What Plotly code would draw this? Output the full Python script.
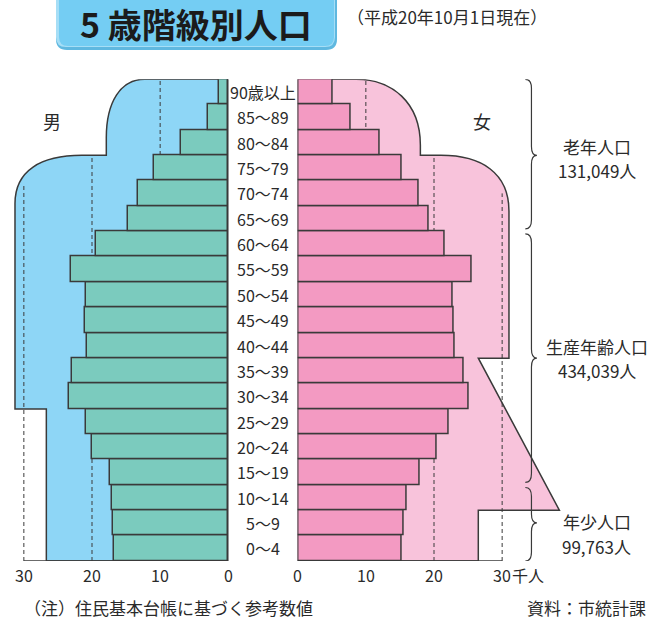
import plotly.graph_objects as go

W, H = 649, 623

# ---------------- data ----------------
age_labels = ["0～4", "5～9", "10～14", "15～19", "20～24", "25～29", "30～34",
              "35～39", "40～44", "45～49", "50～54", "55～59", "60～64", "65～69",
              "70～74", "75～79", "80～84", "85～89", "90歳以上"]
male = [16.7, 16.9, 17.0, 17.3, 20.0, 20.9, 23.4, 22.9, 20.8, 21.0,
        20.9, 23.1, 19.4, 14.7, 13.2, 10.9, 7.0, 3.0, 1.4]
female = [15.2, 15.6, 16.0, 17.9, 20.4, 22.2, 25.1, 24.3, 23.1, 22.9,
          22.8, 25.5, 21.5, 19.2, 17.7, 15.2, 12.1, 7.8, 5.2]
tick_vals = [0, 10, 20, 30]
tick_text = ["0", "10", "20", "30"]
groups = ["老年人口", "生産年齢人口", "年少人口"]
group_counts = ["131,049人", "434,039人", "99,763人"]

idx = list(range(len(age_labels)))

# ---------------- geometry helpers ----------------
X0_M = 228.3   # px of male zero
X0_F = 297.7   # px of female zero
SCALE = 6.815  # px per unit
Y_BOT, Y_TOP = 561.0, 79.3

def py(p):
    return 1 - p / H

def px(p):
    return p / W

C_BLUE = "#8ed6f6"
C_TEAL = "#7bcbbe"
C_PINK_BG = "#f8c3db"
C_PINK = "#f39ac2"
C_LINE = "#3a3a3a"
C_TXT = "#2a2a2a"
FONT = "Noto Sans CJK JP"

fig = go.Figure()
fig.add_trace(go.Bar(y=idx, x=male, orientation="h", xaxis="x", yaxis="y",
                     width=1, marker=dict(color=C_TEAL, line=dict(color=C_LINE, width=1.5)),
                     showlegend=False, hoverinfo="skip"))
fig.add_trace(go.Bar(y=idx, x=female, orientation="h", xaxis="x2", yaxis="y",
                     width=1, marker=dict(color=C_PINK, line=dict(color=C_LINE, width=1.5)),
                     showlegend=False, hoverinfo="skip"))

shapes = []

# background outline shapes (data coords)
male_path = ("M 0,18.5 L 12.3,18.5 C 15.8,18.5 17.9,17.6 17.9,16.2 L 17.9,15.5 "
             "L 21.5,15.5 C 27.5,15.5 31.3,14.9 31.3,13.6 L 31.3,5.5 L 26.7,5.5 "
             "L 26.7,-0.5 L 0,-0.5 Z")
female_path = ("M 0,18.5 L 8.6,18.5 C 13.8,18.5 18.0,17.6 18.0,15.9 L 18.0,15.5 "
               "L 21.0,15.5 C 27.0,15.5 31.0,14.8 31.0,13.3 L 31.0,7.5 L 26.5,7.5 "
               "L 38.4,1.5 L 26.5,1.5 L 26.5,-0.5 L 0,-0.5 Z")
shapes.append(dict(type="path", path=male_path, xref="x", yref="y", layer="below",
                   fillcolor=C_BLUE, line=dict(color=C_LINE, width=1.5)))
shapes.append(dict(type="path", path=female_path, xref="x2", yref="y", layer="below",
                   fillcolor=C_PINK_BG, line=dict(color=C_LINE, width=1.5)))

# dashed reference lines
dash_m = [(10, 18.5), (20, 15.5), (30, 14.4)]
dash_f = [(10, 18.5), (20, 15.5), (30, 14.0)]
for xv, ytop in dash_m:
    shapes.append(dict(type="line", xref="x", yref="y", x0=xv, x1=xv, y0=-0.5, y1=ytop,
                       layer="below", line=dict(color=C_LINE, width=1, dash="4px,3px")))
for xv, ytop in dash_f:
    shapes.append(dict(type="line", xref="x2", yref="y", x0=xv, x1=xv, y0=-0.5, y1=ytop,
                       layer="below", line=dict(color=C_LINE, width=1, dash="4px,3px")))

# axis lines
for xr in ["x", "x2"]:
    shapes.append(dict(type="line", xref=xr, yref="y", x0=0, x1=30, y0=-0.5, y1=-0.5,
                       line=dict(color=C_LINE, width=1.5)))
    shapes.append(dict(type="line", xref=xr, yref="y", x0=0, x1=0, y0=-0.5, y1=18.5,
                       line=dict(color=C_LINE, width=1.5)))

# braces
bx, btip, bend, r = 34.3, 35.1, 33.4, 0.35
brace_spans = [(18.5, 12.6, 15.5), (12.4, 2.6, 7.5), (2.4, -0.5, 1.0)]
for y0, y1, ym in brace_spans:
    p = (f"M {bend},{y0} Q {bx},{y0} {bx},{y0 - r} L {bx},{ym + r} "
         f"Q {bx},{ym} {btip},{ym} Q {bx},{ym} {bx},{ym - r} "
         f"L {bx},{y1 + r} Q {bx},{y1} {bend},{y1}")
    shapes.append(dict(type="path", path=p, xref="x2", yref="y",
                       line=dict(color=C_LINE, width=1.2)))

# title box (paper coords)
def rbox(x0, x1, ytop, ybot, rad):
    return (f"M {px(x0)},{py(ytop)} L {px(x1)},{py(ytop)} L {px(x1)},{py(ybot - rad)} "
            f"Q {px(x1)},{py(ybot)} {px(x1 - rad)},{py(ybot)} L {px(x0 + rad)},{py(ybot)} "
            f"Q {px(x0)},{py(ybot)} {px(x0)},{py(ybot - rad)} Z")
shapes.append(dict(type="path", path=rbox(56, 337, -2, 50, 11), xref="paper", yref="paper",
                   fillcolor="#5fb8e0", line=dict(width=0)))
shapes.append(dict(type="path", path=rbox(56, 335, -2, 47, 10), xref="paper", yref="paper",
                   fillcolor="#a6def6", line=dict(width=0)))
shapes.append(dict(type="path", path=rbox(59, 334, -2, 46, 9), xref="paper", yref="paper",
                   fillcolor="#74cdf3", line=dict(width=0)))

annotations = []

def ann(**kw):
    kw.setdefault("showarrow", False)
    kw.setdefault("xanchor", "center")
    kw.setdefault("yanchor", "middle")
    annotations.append(kw)

# age labels
for i, lab in enumerate(age_labels):
    ann(x=px(263), xref="paper", y=i, yref="y", text=lab,
        font=dict(family=FONT, size=16, color=C_TXT))
# tick labels
ty = py(575)
for v, t in zip(tick_vals, tick_text):
    ann(x=v, xref="x", y=ty, yref="paper", text=t, font=dict(family=FONT, size=16, color=C_TXT))
    ann(x=v, xref="x2", y=ty, yref="paper", text=t, font=dict(family=FONT, size=16, color=C_TXT))
ann(x=31.1, xref="x2", y=ty, yref="paper", text="千人", xanchor="left",
    font=dict(family=FONT, size=16, color=C_TXT))

# sex labels
ann(x=px(52), xref="paper", y=16.85, yref="y", text="男", font=dict(family=FONT, size=18, color=C_TXT))
ann(x=27.0, xref="x2", y=16.85, yref="y", text="女", font=dict(family=FONT, size=18, color=C_TXT))

# group labels
gy = [(15.86, 14.92), (7.97, 7.03), (1.07, 0.06)]
for (g, c), (y_a, y_b) in zip(zip(groups, group_counts), gy):
    ann(x=43.9, xref="x2", y=y_a, yref="y", text=g, font=dict(family=FONT, size=17, color=C_TXT))
    ann(x=43.9, xref="x2", y=y_b, yref="y", text=c, font=dict(family=FONT, size=17, color=C_TXT))

# title + subtitle
ann(x=px(196), y=py(23), xref="paper", yref="paper", text="<b>5 歳階級別人口</b>",
    font=dict(family=FONT, size=34, color="#1b1b1b"))
ann(x=px(345), y=py(16), xref="paper", yref="paper", xanchor="left",
    text="（平成20年10月1日現在）", font=dict(family=FONT, size=17, color=C_TXT))
# footer
ann(x=px(22), y=py(607), xref="paper", yref="paper", xanchor="left",
    text="（注）住民基本台帳に基づく参考数値", font=dict(family=FONT, size=17, color=C_TXT))
ann(x=px(648), y=py(607), xref="paper", yref="paper", xanchor="right",
    text="資料：市統計課", font=dict(family=FONT, size=17, color=C_TXT))

fig.update_layout(
    width=W, height=H, margin=dict(l=0, r=0, t=0, b=0),
    paper_bgcolor="white", plot_bgcolor="white",
    bargap=0, barmode="overlay",
    xaxis=dict(domain=[0, X0_M / W], range=[X0_M / SCALE, 0], visible=False,
               showgrid=False, zeroline=False, anchor="y"),
    xaxis2=dict(domain=[X0_F / W, 1], range=[0, (W - X0_F) / SCALE], visible=False,
                showgrid=False, zeroline=False, anchor="y"),
    yaxis=dict(domain=[1 - Y_BOT / H, 1 - Y_TOP / H], range=[-0.5, 18.5], visible=False,
               showgrid=False, zeroline=False, anchor="x"),
    shapes=shapes, annotations=annotations,
)

fig.write_html("out.html", config={"displayModeBar": False},
               post_script="document.body.style.margin='0';document.body.style.overflow='hidden';")
